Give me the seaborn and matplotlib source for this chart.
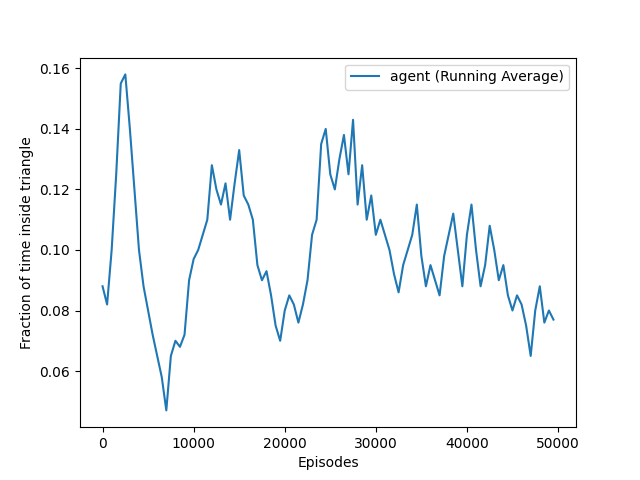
import numpy as np
import pandas as pd
import matplotlib
matplotlib.use('Agg')
import matplotlib.pyplot as plt
import seaborn as sns

# Running average, every 500 episodes
episodes = list(range(0, 50000, 500))
fraction = [
    0.088, 0.082, 0.100, 0.125, 0.155, 0.158, 0.140, 0.120, 0.100, 0.088,
    0.080, 0.072, 0.065, 0.058, 0.047, 0.065, 0.070, 0.068, 0.072, 0.090,
    0.097, 0.100, 0.105, 0.110, 0.128, 0.120, 0.115, 0.122, 0.110, 0.122,
    0.133, 0.118, 0.115, 0.110, 0.095, 0.090, 0.093, 0.085, 0.075, 0.070,
    0.080, 0.085, 0.082, 0.076, 0.082, 0.090, 0.105, 0.110, 0.135, 0.140,
    0.125, 0.120, 0.130, 0.138, 0.125, 0.143, 0.115, 0.128, 0.110, 0.118,
    0.105, 0.110, 0.105, 0.100, 0.092, 0.086, 0.095, 0.100, 0.105, 0.115,
    0.098, 0.088, 0.095, 0.090, 0.085, 0.098, 0.105, 0.112, 0.100, 0.088,
    0.105, 0.115, 0.100, 0.088, 0.095, 0.108, 0.100, 0.090, 0.095, 0.085,
    0.080, 0.085, 0.082, 0.075, 0.065, 0.080, 0.088, 0.076, 0.080, 0.077,
]

df = pd.DataFrame({'Episodes': episodes, 'frac': fraction})

fig, ax = plt.subplots(figsize=(6.4, 4.8), dpi=100)
sns.lineplot(data=df, x='Episodes', y='frac', ax=ax, color='#1f77b4',
             label='agent (Running Average)')
ax.set_xlabel('Episodes')
ax.set_ylabel('Fraction of time inside triangle')
ax.set_xticks([0, 10000, 20000, 30000, 40000, 50000])
ax.legend(loc='upper right')
plt.savefig('out.png')
